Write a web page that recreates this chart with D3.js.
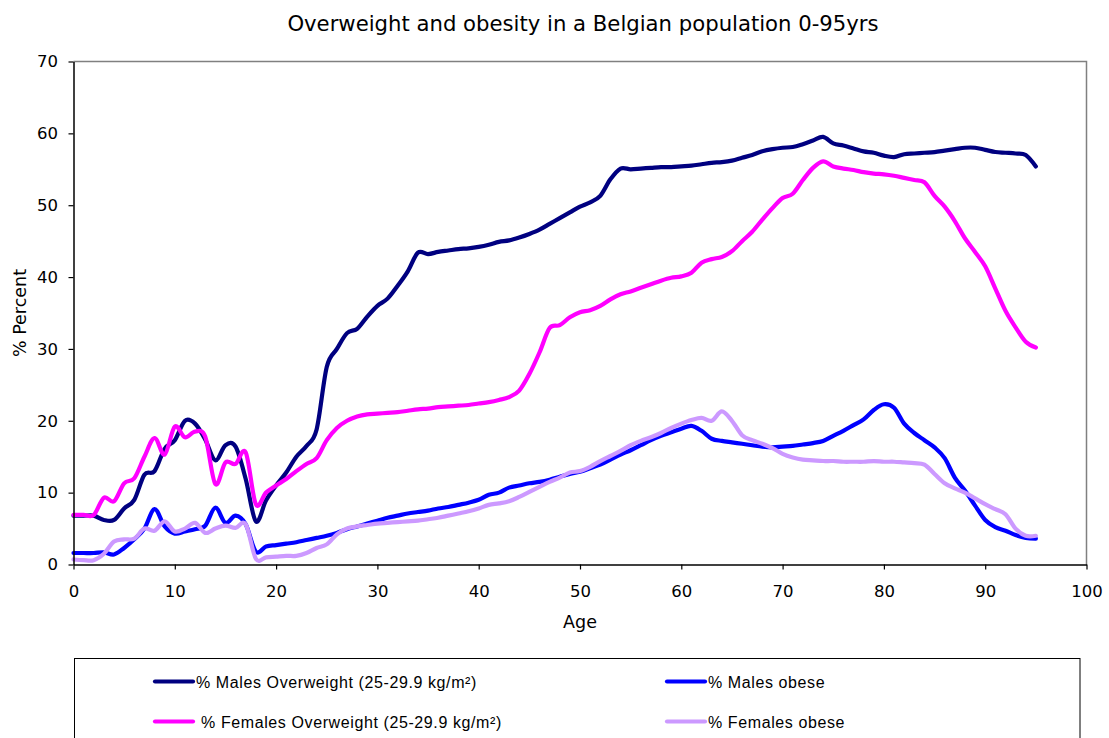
<!DOCTYPE html>
<html>
<head>
<meta charset="utf-8">
<script src="https://cdn.jsdelivr.net/npm/d3@7"></script>
<style>
  html, body { margin: 0; padding: 0; background: #fff; }
  svg { display: block; }
</style>
</head>
<body>
<svg id="chart" width="1109" height="738"></svg>
<script>
const ages = d3.range(0, 96);

const malesOverweight = [
  6.8, 6.8, 6.8, 6.2, 6.2, 7.8, 9.0, 12.5, 13.0, 16.1,
  17.3, 20.0, 19.6, 17.4, 14.5, 16.6, 16.4, 11.9, 6.0, 8.9,
  11.0, 12.8, 15.0, 16.5, 18.8, 27.5, 30.0, 32.2, 32.8, 34.5,
  36.0, 37.0, 38.8, 40.8, 43.4, 43.2, 43.5, 43.7, 43.9, 44.0,
  44.2, 44.5, 44.9, 45.1, 45.5, 46.0, 46.6, 47.4, 48.2, 49.0,
  49.8, 50.4, 51.3, 53.6, 55.1, 55.0, 55.1, 55.2, 55.3, 55.3,
  55.4, 55.5, 55.7, 55.9, 56.0, 56.2, 56.6, 57.0, 57.5, 57.8,
  58.0, 58.1, 58.5, 59.0, 59.5, 58.6, 58.3, 57.9, 57.5, 57.3,
  56.9, 56.7, 57.1, 57.2, 57.3, 57.4, 57.6, 57.8, 58.0, 58.0,
  57.7, 57.4, 57.3, 57.2, 57.0, 55.4
];

const malesObese = [
  1.6, 1.6, 1.6, 1.7, 1.4, 2.3, 3.5, 5.0, 7.7, 5.3,
  4.3, 4.6, 4.9, 5.4, 7.9, 5.8, 6.8, 5.6, 1.8, 2.5,
  2.7, 2.9, 3.1, 3.4, 3.7, 4.0, 4.4, 4.9, 5.3, 5.7,
  6.1, 6.5, 6.8, 7.1, 7.3, 7.5, 7.8, 8.0, 8.3, 8.6,
  9.0, 9.7, 10.0, 10.7, 11.0, 11.3, 11.5, 11.8, 12.2, 12.6,
  12.9, 13.4, 13.9, 14.6, 15.3, 15.9, 16.6, 17.3, 17.9, 18.4,
  18.9, 19.3, 18.6, 17.5, 17.2, 17.0, 16.8, 16.6, 16.4, 16.3,
  16.4, 16.5, 16.7, 16.9, 17.2, 17.9, 18.6, 19.4, 20.2, 21.5,
  22.3, 21.8, 19.6, 18.3, 17.3, 16.3, 14.8, 12.1, 10.3, 8.2,
  6.2, 5.2, 4.7, 4.1, 3.7, 3.6
];

const femalesOverweight = [
  6.9, 6.9, 6.9, 9.3, 8.8, 11.3, 12.0, 15.0, 17.6, 15.3,
  19.2, 17.7, 18.5, 17.8, 11.2, 14.2, 14.0, 15.6, 8.4, 10.0,
  11.0, 11.9, 13.0, 14.0, 14.8, 17.3, 19.0, 20.0, 20.6, 20.9,
  21.0, 21.1, 21.2, 21.4, 21.6, 21.7, 21.9, 22.0, 22.1, 22.2,
  22.4, 22.6, 22.9, 23.3, 24.2, 26.5, 29.5, 32.9, 33.3, 34.4,
  35.1, 35.4, 36.0, 36.9, 37.6, 38.0, 38.5, 39.0, 39.5, 39.9,
  40.1, 40.6, 42.0, 42.5, 42.8, 43.6, 45.0, 46.3, 48.0, 49.6,
  51.0, 51.6, 53.5, 55.2, 56.1, 55.4, 55.1, 54.9, 54.6, 54.4,
  54.3, 54.1, 53.8, 53.5, 53.2, 51.3, 49.8, 47.8, 45.4, 43.5,
  41.5, 38.4, 35.3, 33.0, 31.0, 30.2
];

const femalesObese = [
  0.7, 0.6, 0.6, 1.5, 3.2, 3.5, 3.6, 5.0, 4.7, 6.0,
  4.6, 5.0, 5.8, 4.4, 5.0, 5.4, 5.1, 5.6, 0.8, 1.0,
  1.1, 1.2, 1.2, 1.6, 2.3, 2.8, 4.2, 5.0, 5.3, 5.5,
  5.7, 5.8, 5.9, 6.0, 6.1, 6.3, 6.5, 6.8, 7.1, 7.4,
  7.8, 8.3, 8.5, 8.8, 9.4, 10.1, 10.8, 11.5, 12.1, 12.8,
  13.0, 13.6, 14.4, 15.1, 15.8, 16.6, 17.2, 17.7, 18.3, 19.0,
  19.6, 20.1, 20.4, 20.0, 21.3, 20.0, 18.0, 17.3, 16.8, 16.2,
  15.4, 14.9, 14.6, 14.5, 14.4, 14.4, 14.3, 14.3, 14.3, 14.4,
  14.3, 14.3, 14.2, 14.1, 13.9, 12.6, 11.3, 10.6, 10.0, 9.2,
  8.4, 7.7, 7.0, 5.0, 4.0, 4.0
];

const seriesNames = [
  "% Males Overweight (25-29.9 kg/m\u00B2)",
  "% Males obese",
  " % Females Overweight (25-29.9 kg/m\u00B2)",
  "% Females obese"
];
const seriesColors = ["#000080", "#0000FF", "#FF00FF", "#CC99FF"];
const seriesValues = [malesOverweight, malesObese, femalesOverweight, femalesObese];

const xTicks = d3.range(0, 101, 10);
const yTicks = d3.range(0, 71, 10);

const titleText = "Overweight and obesity in a Belgian population 0-95yrs";
const xTitle = "Age";
const yTitle = "% Percent";

const svg = d3.select("#chart");
const plot = { left: 73.5, top: 61.5, right: 1086.5, bottom: 564.5 };

const x = d3.scaleLinear().domain([0, 100]).range([plot.left, plot.right]);
const y = d3.scaleLinear().domain([0, 70]).range([plot.bottom, plot.top]);

const axisFont = "DejaVu Sans, Verdana, sans-serif";

// plot frame (top & right gray)
svg.append("path")
  .attr("d", `M${plot.left},${plot.top}H${plot.right}V${plot.bottom}`)
  .attr("fill", "none").attr("stroke", "#808080").attr("stroke-width", 1.5);

// lines
const line = d3.line()
  .x((d, i) => x(ages[i]))
  .y(d => y(d))
  .curve(d3.curveCardinal.tension(0));

seriesValues.forEach((vals, k) => {
  svg.append("path")
    .datum(vals)
    .attr("d", line)
    .attr("fill", "none")
    .attr("stroke", seriesColors[k])
    .attr("stroke-width", 4.2)
    .attr("stroke-linejoin", "round")
    .attr("stroke-linecap", "round");
});

// axes
const xAxis = svg.append("g")
  .attr("transform", `translate(0,${plot.bottom})`)
  .call(d3.axisBottom(x).tickValues(xTicks).tickSize(5).tickSizeOuter(0).tickPadding(16));
const yAxis = svg.append("g")
  .attr("transform", `translate(${plot.left},0)`)
  .call(d3.axisLeft(y).tickValues(yTicks).tickSize(5).tickSizeOuter(0).tickPadding(10.5));

[xAxis, yAxis].forEach(g => {
  g.select(".domain").attr("stroke", "#000").attr("stroke-width", 1.5);
  g.selectAll(".tick line").attr("stroke", "#000").attr("stroke-width", 1.2);
  g.selectAll(".tick text")
    .attr("font-family", axisFont).attr("font-size", 16.5).attr("fill", "#000");
});

// title
svg.append("text")
  .attr("x", 583).attr("y", 31)
  .attr("text-anchor", "middle")
  .attr("font-family", axisFont).attr("font-size", 21.2)
  .text(titleText);

// axis titles
svg.append("text")
  .attr("x", x(50)).attr("y", 628)
  .attr("text-anchor", "middle")
  .attr("font-family", axisFont).attr("font-size", 17.5)
  .text(xTitle);

svg.append("text")
  .attr("transform", `translate(25.5,${(plot.top + plot.bottom) / 2}) rotate(-90)`)
  .attr("text-anchor", "middle")
  .attr("font-family", axisFont).attr("font-size", 17.5)
  .text(yTitle);

// legend
svg.append("rect")
  .attr("x", 74.5).attr("y", 658.5)
  .attr("width", 1005.5).attr("height", 100)
  .attr("fill", "#fff").attr("stroke", "#000").attr("stroke-width", 1);

const legendPos = [
  { lx: 155, ty: 681.5 }, { lx: 667, ty: 681.5 },
  { lx: 155, ty: 721.5 }, { lx: 667, ty: 721.5 }
];
seriesNames.forEach((name, k) => {
  const p = legendPos[k];
  svg.append("line")
    .attr("x1", p.lx).attr("x2", p.lx + 38)
    .attr("y1", p.ty).attr("y2", p.ty)
    .attr("stroke", seriesColors[k]).attr("stroke-width", 4.2)
    .attr("stroke-linecap", "round");
  svg.append("text")
    .attr("x", p.lx + 41).attr("y", p.ty + 6)
    .attr("font-family", "Liberation Sans, Arial, sans-serif")
    .attr("font-size", 16)
    .attr("letter-spacing", 0.6)
    .style("white-space", "pre")
    .text(name);
});
</script>
</body>
</html>
